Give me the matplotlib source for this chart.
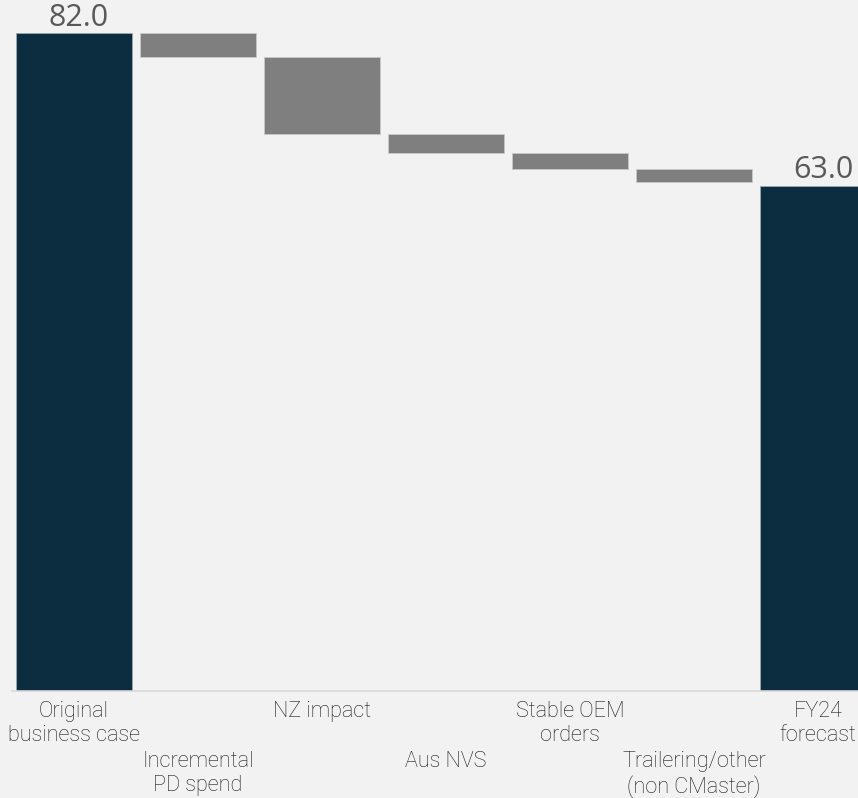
import matplotlib
matplotlib.use("Agg")
import matplotlib.pyplot as plt
from matplotlib.transforms import blended_transform_factory

categories = ["Original\nbusiness case", "Incremental\nPD spend", "NZ impact", "Aus NVS",
              "Stable OEM\norders", "Trailering/other\n(non CMaster)", "FY24\nforecast"]
start_value = 82.0
deltas = [-3.0, -9.5, -2.4, -2.0, -1.6]
end_value = 63.0
value_labels = ["82.0", "63.0"]

navy = "#0c2d40"
grey = "#7f7f7f"
bg = "#f2f2f2"

fig = plt.figure(figsize=(8.58, 7.98), dpi=100, facecolor=bg)
ax = fig.add_axes([12/858, (798-691)/798, 1 - 12/858, 691/798])
ax.set_facecolor(bg)

n = len(categories)
x = list(range(n))
width = 0.935

# totals
ax.bar(0, start_value, width=width, color=navy, edgecolor="#9aa7b0", linewidth=0.6)
ax.bar(n-1, end_value, width=width, color=navy, edgecolor="#9aa7b0", linewidth=0.6)

level = start_value
for i, d in enumerate(deltas, start=1):
    ax.bar(i, d, bottom=level, width=width, color=grey, edgecolor="#c8c8c8", linewidth=0.6)
    level += d

ax.text(0.04, start_value + 0.88, value_labels[0], ha="center", va="baseline",
        fontsize=22, color="#595959", family="Open Sans")
ax.text(n-1 + 0.04, end_value + 0.95, value_labels[1], ha="center", va="baseline",
        fontsize=22, color="#595959", family="Open Sans")

ax.set_xlim(-0.5, -0.5 + (858-12)/124)
ax.set_ylim(0, 691/8.02)

for s in ["top", "right", "left"]:
    ax.spines[s].set_visible(False)
ax.spines["bottom"].set_color("#d9d9d9")
ax.spines["bottom"].set_linewidth(1.2)
ax.set_yticks([])
ax.set_xticks([])

trans = blended_transform_factory(ax.transData, fig.transFigure)
for i, lab in enumerate(categories):
    ytop = (798-701)/798 if i % 2 == 0 else (798-751)/798
    fig.text(i, ytop, lab, transform=trans, ha="center", va="top",
             fontsize=15.6, color="#1a1a1a", family="Roboto", fontweight="light",
             linespacing=1.2)

fig.savefig("out.png", dpi=100, facecolor=bg)
